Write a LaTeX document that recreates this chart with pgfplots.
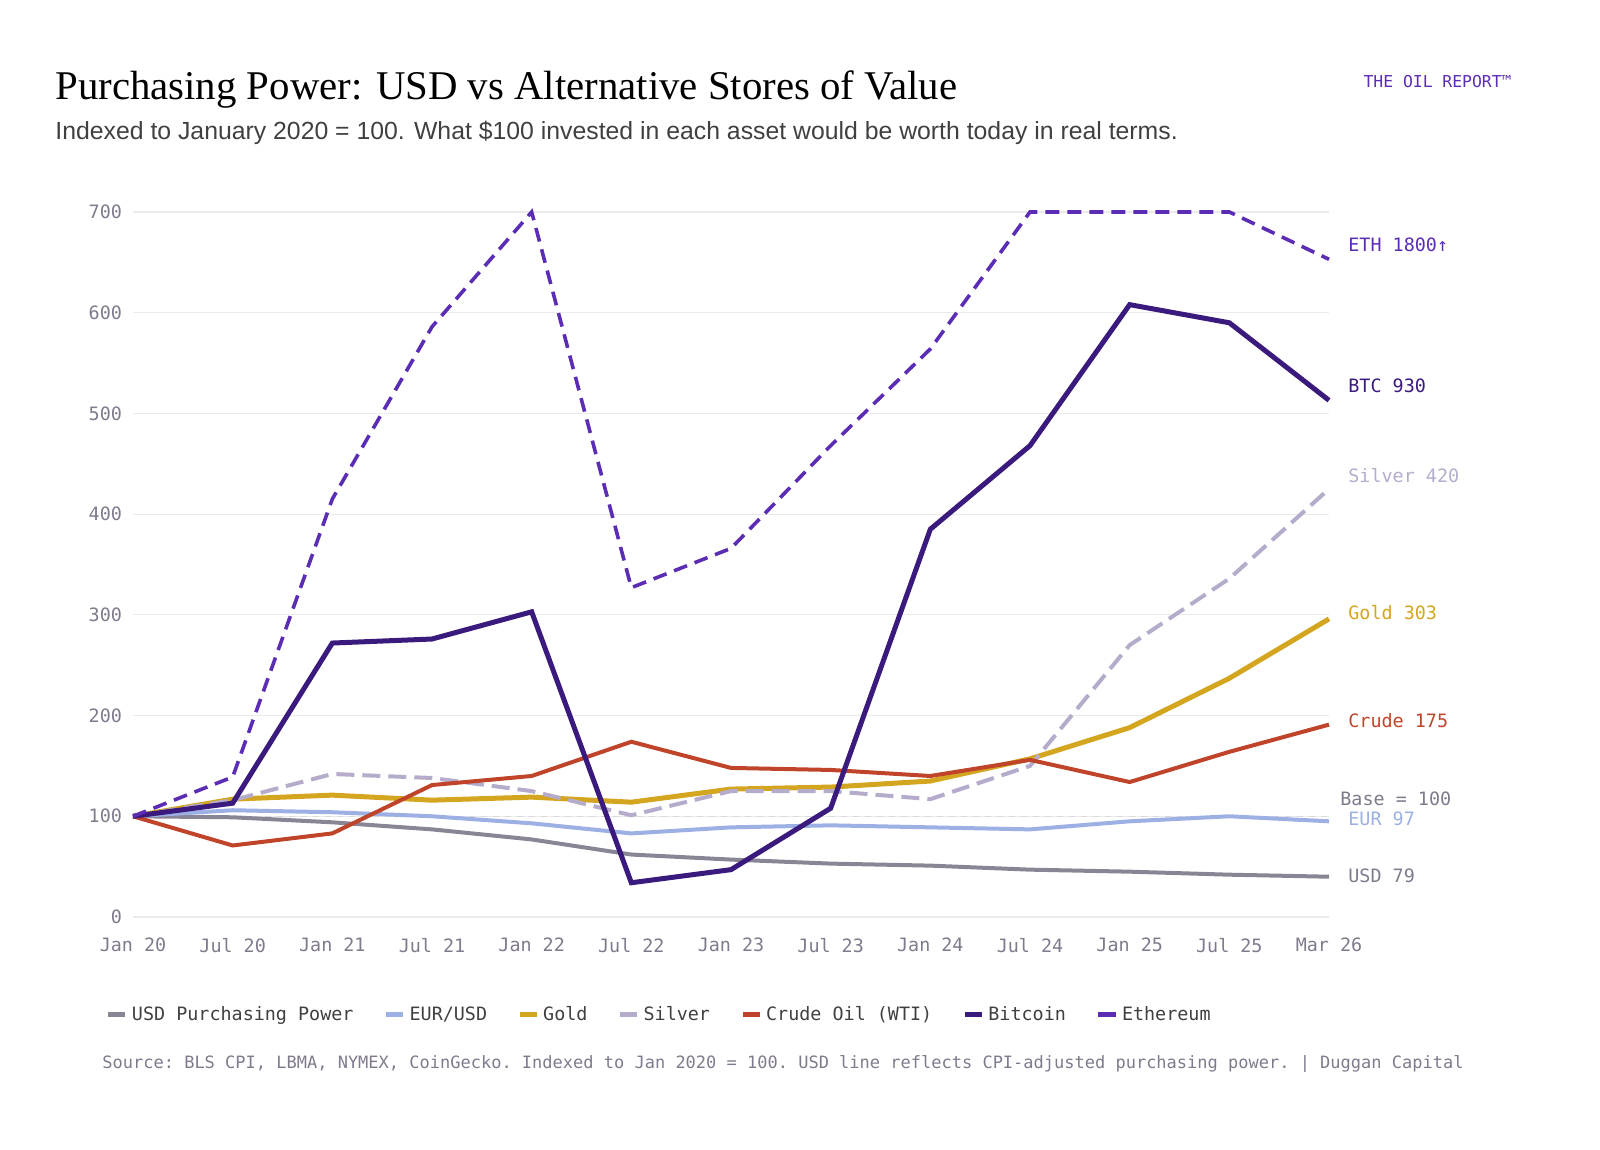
\documentclass[border=0pt]{standalone}
\usepackage{pgfplots}
\pgfplotsset{compat=1.18}
\usepackage{fontspec}
\setmainfont{Liberation Sans}
\newfontfamily\serif{Liberation Serif}
\setmonofont{DejaVu Sans Mono}
\definecolor{eth}{HTML}{5B2DB5}
\definecolor{btc}{HTML}{3B1A7E}
\definecolor{silv}{HTML}{B5ACCB}
\definecolor{gold}{HTML}{D4A51E}
\definecolor{crude}{HTML}{C0442A}
\definecolor{eur}{HTML}{9CB0E4}
\definecolor{usd}{HTML}{8A8594}
\definecolor{tick}{HTML}{807A8C}
\begin{document}
\begin{tikzpicture}
\useasboundingbox (0pt,0pt) rectangle (800pt,575pt);
\begin{scope}[x=0.5pt,y=0.5pt]
\node[anchor=base west,inner sep=0,font=\serif\fontsize{20.4}{24}\selectfont] at (55,1050) {Purchasing Power: USD vs Alternative Stores of Value};
\node[anchor=base west,inner sep=0,font=\fontsize{12.4}{14}\selectfont,text=black!75] at (55,1010) {Indexed to January 2020 = 100. What \$100 invested in each asset would be worth today in real terms.};
\node[anchor=base east,inner sep=0,font=\ttfamily\fontsize{8.2}{10}\selectfont,text=eth] at (1512,1062) {THE OIL REPORT™};
\end{scope}
\begin{axis}[at={(66.5pt,116.5pt)},anchor=south west,scale only axis,width=598pt,height=352.5pt,
 xmin=0,xmax=12,ymin=0,ymax=700,
 axis line style={draw=none},major tick length=0pt,
 ytick={0,100,...,700},xtick={0,...,12},
 xticklabels={Jan 20,Jul 20,Jan 21,Jul 21,Jan 22,Jul 22,Jan 23,Jul 23,Jan 24,Jul 24,Jan 25,Jul 25,Mar 26},
 ymajorgrids,grid style={black!8,line width=0.6pt},
 tick label style={font=\ttfamily\fontsize{9.2}{11}\selectfont,text=tick},
 /pgf/number format/assume math mode=true,
 yticklabel style={xshift=-2pt},xticklabel style={yshift=-7pt},
 clip=false,
 legend columns=7,
 legend style={at={(-0.028,-0.139)},anchor=west,draw=none,fill=none,
   font=\ttfamily\fontsize{9.2}{11}\selectfont,text=black!75,
   /tikz/every even column/.append style={column sep=13pt}},
 legend image code/.code={\draw[#1,solid,line width=2.5pt] (0cm,0cm) -- (0.3cm,0cm);},
]
\addplot[black!15,dashed,line width=0.6pt,forget plot] coordinates {(0,100)(12,100)};
\addplot[usd,line width=2pt] coordinates {(0,100)(1,99)(2,94)(3,87)(4,77)(5,62)(6,57)(7,53)(8,51)(9,47)(10,45)(11,42)(12,40)};
\addlegendentry{USD Purchasing Power}
\addplot[eur,line width=2pt] coordinates {(0,100)(1,106)(2,104)(3,100)(4,93)(5,83)(6,89)(7,91)(8,89)(9,87)(10,95)(11,100)(12,95)};
\addlegendentry{EUR/USD}
\addplot[gold,line width=2.5pt] coordinates {(0,100)(1,117)(2,121)(3,116)(4,119)(5,114)(6,127)(7,129)(8,135)(9,157)(10,188)(11,237)(12,296)};
\addlegendentry{Gold}
\addplot[silv,line width=2pt,dash pattern=on 9pt off 4pt] coordinates {(0,100)(1,116)(2,142)(3,138)(4,125)(5,101)(6,125)(7,125)(8,117)(9,150)(10,270)(11,336)(12,425)};
\addlegendentry{Silver}
\addplot[crude,line width=2pt] coordinates {(0,100)(1,71)(2,83)(3,131)(4,140)(5,174)(6,148)(7,146)(8,140)(9,156)(10,134)(11,164)(12,191)};
\addlegendentry{Crude Oil (WTI)}
\addplot[btc,line width=2.5pt] coordinates {(0,100)(1,113)(2,272)(3,276)(4,303)(5,34)(6,47)(7,108)(8,385)(9,468)(10,608)(11,590)(12,513)};
\addlegendentry{Bitcoin}
\addplot[eth,line width=1.8pt,dash pattern=on 7pt off 4pt] coordinates {(0,100)(1,139)(2,415)(3,586)(4,700)(5,327)(6,366)(7,468)(8,564)(9,700)(10,700)(11,700)(12,653)};
\addlegendentry{Ethereum}
\end{axis}
\begin{scope}[x=0.5pt,y=0.5pt,font=\ttfamily\fontsize{9.2}{11}\selectfont]
\node[anchor=west,inner sep=0,text=eth] at (1348,905) {ETH 1800↑};
\node[anchor=west,inner sep=0,text=btc] at (1348,764) {BTC 930};
\node[anchor=west,inner sep=0,text=silv] at (1348,674) {Silver 420};
\node[anchor=west,inner sep=0,text=gold] at (1348,537) {Gold 303};
\node[anchor=west,inner sep=0,text=crude] at (1348,429) {Crude 175};
\node[anchor=west,inner sep=0,text=tick] at (1340,351) {Base = 100};
\node[anchor=west,inner sep=0,text=eur] at (1348,331) {EUR 97};
\node[anchor=west,inner sep=0,text=tick] at (1348,274) {USD 79};
\node[anchor=west,inner sep=0,text=tick,font=\ttfamily\fontsize{8.5}{10}\selectfont] at (102,86) {Source: BLS CPI, LBMA, NYMEX, CoinGecko. Indexed to Jan 2020 = 100. USD line reflects CPI-adjusted purchasing power. | Duggan Capital};
\end{scope}
\end{tikzpicture}
\end{document}
